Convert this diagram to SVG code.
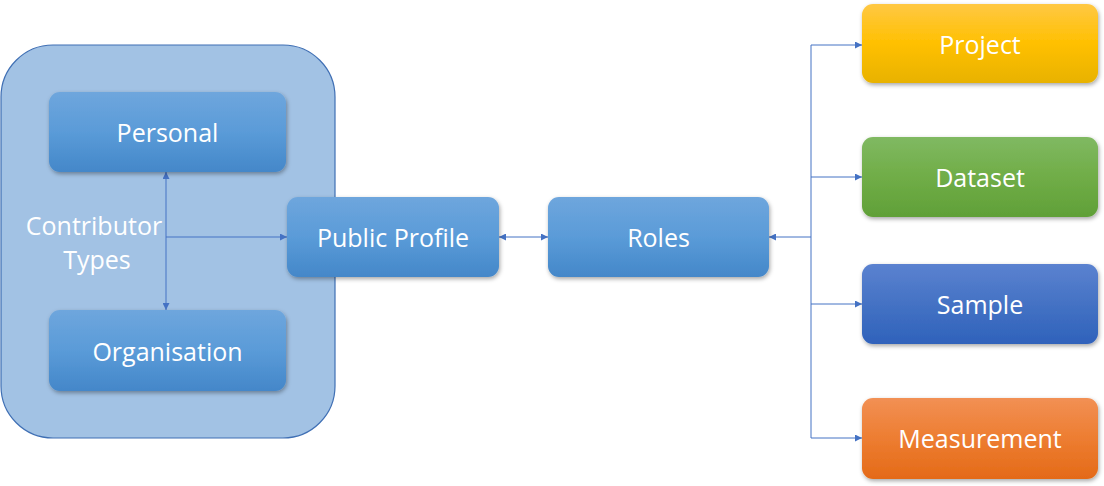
<svg xmlns="http://www.w3.org/2000/svg" width="1104" height="486" viewBox="0 0 1104 486">
<style>
.lbl{font-family:"Open Sans","Liberation Sans",sans-serif;font-size:25px;fill:#ffffff;text-anchor:middle;dominant-baseline:central}
.ln{fill:none;stroke:#4472c4;stroke-width:1}
</style>
<defs>
<linearGradient id="gBlue" x1="0" y1="0" x2="0" y2="1">
<stop offset="0" stop-color="#6ea6dd"/><stop offset="0.5" stop-color="#5a9bd8"/><stop offset="1" stop-color="#4487c9"/>
</linearGradient>
<linearGradient id="gYellow" x1="0" y1="0" x2="0" y2="1">
<stop offset="0" stop-color="#ffc844"/><stop offset="0.5" stop-color="#ffc000"/><stop offset="1" stop-color="#e8b200"/>
</linearGradient>
<linearGradient id="gGreen" x1="0" y1="0" x2="0" y2="1">
<stop offset="0" stop-color="#80b962"/><stop offset="0.5" stop-color="#70ad47"/><stop offset="1" stop-color="#60a038"/>
</linearGradient>
<linearGradient id="gDark" x1="0" y1="0" x2="0" y2="1">
<stop offset="0" stop-color="#5b82d0"/><stop offset="0.5" stop-color="#4472c4"/><stop offset="1" stop-color="#2f62bb"/>
</linearGradient>
<linearGradient id="gOrange" x1="0" y1="0" x2="0" y2="1">
<stop offset="0" stop-color="#f29054"/><stop offset="0.5" stop-color="#ed7d31"/><stop offset="1" stop-color="#e46a18"/>
</linearGradient>
<filter id="sh" x="-10%" y="-10%" width="125%" height="135%">
<feDropShadow dx="1" dy="2" stdDeviation="2" flood-color="#000" flood-opacity="0.35"/>
</filter>
<marker id="arr" viewBox="0 0 10 10" refX="10" refY="5" markerWidth="7" markerHeight="7" orient="auto-start-reverse" markerUnits="userSpaceOnUse">
<path d="M0,0 L10,5 L0,10 z" fill="#4472c4"/>
</marker>
</defs>

<g id="contributor-types">
<rect x="1" y="45" width="334" height="393" rx="52" fill="#a2c2e4" stroke="#3f6fb4" stroke-width="1.2"/>
<text class="lbl" x="94" y="225">Contributor</text>
<text class="lbl" x="97" y="259">Types</text>
</g>

<g id="connectors">
<line class="ln" x1="166" y1="172" x2="166" y2="310" marker-start="url(#arr)" marker-end="url(#arr)"/>
<line class="ln" x1="166" y1="237" x2="287" y2="237" marker-end="url(#arr)"/>
<line class="ln" x1="499" y1="237" x2="548" y2="237" marker-start="url(#arr)" marker-end="url(#arr)"/>
<line class="ln" x1="811" y1="237" x2="769" y2="237" marker-end="url(#arr)"/>
<line class="ln" x1="811" y1="45" x2="811" y2="438"/>
<line class="ln" x1="811" y1="45" x2="862" y2="45" marker-end="url(#arr)"/>
<line class="ln" x1="811" y1="177" x2="862" y2="177" marker-end="url(#arr)"/>
<line class="ln" x1="811" y1="304" x2="862" y2="304" marker-end="url(#arr)"/>
<line class="ln" x1="811" y1="438" x2="862" y2="438" marker-end="url(#arr)"/>
</g>

<g id="personal">
<rect x="49" y="92" width="237" height="80" rx="11" fill="url(#gBlue)" filter="url(#sh)"/>
<text class="lbl" x="167.5" y="132">Personal</text>
</g>
<g id="organisation">
<rect x="49" y="310" width="237" height="81" rx="11" fill="url(#gBlue)" filter="url(#sh)"/>
<text class="lbl" x="167.5" y="351">Organisation</text>
</g>
<g id="public-profile">
<rect x="287" y="197" width="212" height="80" rx="11" fill="url(#gBlue)" filter="url(#sh)"/>
<text class="lbl" x="393" y="237">Public Profile</text>
</g>
<g id="roles">
<rect x="548" y="197" width="221" height="80" rx="11" fill="url(#gBlue)" filter="url(#sh)"/>
<text class="lbl" x="658.5" y="237">Roles</text>
</g>
<g id="project">
<rect x="862" y="4" width="236" height="79" rx="11" fill="url(#gYellow)" filter="url(#sh)"/>
<text class="lbl" x="980" y="44">Project</text>
</g>
<g id="dataset">
<rect x="862" y="137" width="236" height="80" rx="11" fill="url(#gGreen)" filter="url(#sh)"/>
<text class="lbl" x="980" y="177">Dataset</text>
</g>
<g id="sample">
<rect x="862" y="264" width="236" height="80" rx="11" fill="url(#gDark)" filter="url(#sh)"/>
<text class="lbl" x="980" y="304">Sample</text>
</g>
<g id="measurement">
<rect x="862" y="398" width="236" height="81" rx="11" fill="url(#gOrange)" filter="url(#sh)"/>
<text class="lbl" x="980" y="438">Measurement</text>
</g>
</svg>
